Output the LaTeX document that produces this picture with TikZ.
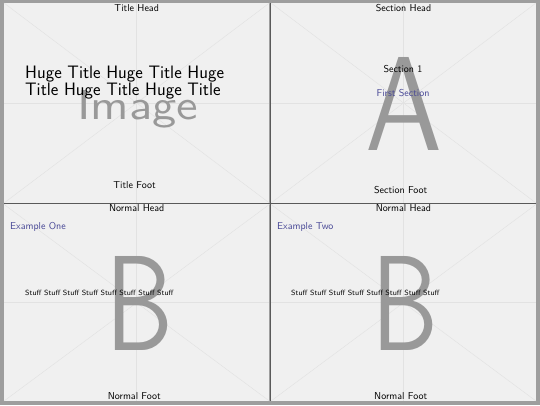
\documentclass[tikz,border=0pt]{standalone}
\usepackage{tikz}
\usetikzlibrary{calc}
\definecolor{framegray}{gray}{0.62}
\definecolor{rulegray}{gray}{0.35}
\definecolor{slidebg}{gray}{0.94}
\definecolor{crossgray}{gray}{0.885}
\definecolor{lettergray}{gray}{0.6}
\definecolor{structblue}{RGB}{72,72,150}
\tikzset{
	slidetext/.style={font=\sffamily\fontsize{10}{12}\selectfont, inner sep=0pt},
	blocktitle/.style={slidetext, text=structblue},
	stufftext/.style={font=\sffamily\fontsize{7.55}{9}\selectfont, inner sep=0pt},
	hugetext/.style={font=\sffamily\fontsize{18}{20}\selectfont, inner sep=0pt},
	bigletter/.style={text=lettergray, inner sep=0pt, font=\sffamily}
}
% one slide of the handout: backdrop with the placeholder cross
\def\slide(#1,#2)(#3,#4){%
	\fill[slidebg] (#1,#2) rectangle (#3,#4);
	\draw[crossgray, line width=0.45pt] (#1,#2) -- (#3,#4) (#1,#4) -- (#3,#2);
	\draw[crossgray, line width=0.45pt] ({(#1+#3)/2},#2) -- ({(#1+#3)/2},#4);
	\draw[crossgray, line width=0.45pt] (#1,{(#2+#4)/2}) -- (#3,{(#2+#4)/2});
}

\begin{document}
\begin{tikzpicture}[x=1pt, y=-1pt]
	%%%%% START %%%%%
	
	\useasboundingbox (0,0) rectangle (540,405);
	\fill[framegray] (0,0) rectangle (540,405);
	
	\slide(4,3)(269.4,203)
	\slide(271,3)(536,203)
	\slide(4,204.4)(269.4,401)
	\slide(271,204.4)(536,401)
	
	\draw[rulegray, line width=1.4pt] (270.2,3) -- (270.2,401);
	\draw[rulegray, line width=1.4pt] (4,203.7) -- (536,203.7);
	
	% title slide
	\node[bigletter, anchor=base west] (img) at (77,119) {\resizebox{121pt}{29pt}{Image}};
	\node[slidetext, anchor=base] (thead) at (136.7,11.5) {Title Head};
	\node[hugetext, anchor=base west] (huge1) at (25,78.3) {Huge Title Huge Title Huge};
	\node[hugetext, anchor=base west] (huge2) at (25,95) {Title Huge Title Huge Title};
	\node[slidetext, anchor=base] (tfoot) at (134.5,188) {Title Foot};
	
	% section slide
	\node[bigletter, anchor=base west] (bigA) at (365,150) {\resizebox{77pt}{93pt}{A}};
	\node[slidetext, anchor=base] (shead) at (403.5,11.5) {Section Head};
	\node[slidetext, anchor=base] (secnum) at (403,72) {Section 1};
	\node[blocktitle, anchor=base] (secname) at (403,96.5) {First Section};
	\node[slidetext, anchor=base] (sfoot) at (400.7,193) {Section Foot};
	
	% normal slides
	\node[bigletter, anchor=base west] (bigB1) at (105,350) {\resizebox{68pt}{94pt}{B}};
	\node[slidetext, anchor=base] (nhead1) at (136.7,211.3) {Normal Head};
	\node[blocktitle, anchor=base west] (ex1) at (10,229.5) {Example One};
	\node[stufftext, anchor=base west] (stuff1) at (25,295) {Stuff Stuff Stuff Stuff Stuff Stuff Stuff Stuff};
	\node[slidetext, anchor=base] (nfoot1) at (134.3,399) {Normal Foot};
	
	\node[bigletter, anchor=base west] (bigB2) at (371,350) {\resizebox{67pt}{94pt}{B}};
	\node[slidetext, anchor=base] (nhead2) at (403.5,211.3) {Normal Head};
	\node[blocktitle, anchor=base west] (ex2) at (277,229.5) {Example Two};
	\node[stufftext, anchor=base west] (stuff2) at (291,295) {Stuff Stuff Stuff Stuff Stuff Stuff Stuff Stuff};
	\node[slidetext, anchor=base] (nfoot2) at (400.7,399) {Normal Foot};
	
	%%%%% END %%%%%
\end{tikzpicture}
\end{document}
